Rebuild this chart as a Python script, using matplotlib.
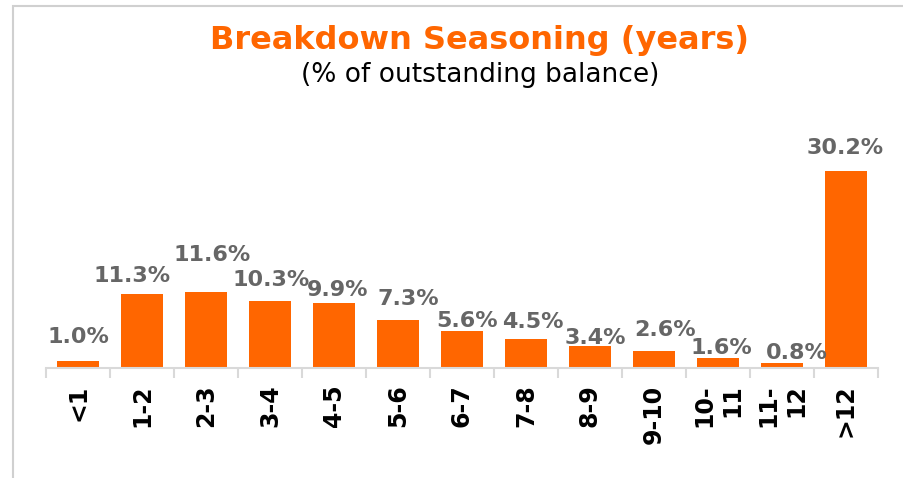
import matplotlib
matplotlib.use("Agg")
import matplotlib.pyplot as plt
from matplotlib.patches import Rectangle
import numpy as np

# Seasoning buckets and share of outstanding balance (%)
categories = ["<1", "1-2", "2-3", "3-4", "4-5", "5-6", "6-7", "7-8", "8-9", "9-10", "10-\n11", "11-\n12", ">12"]
values = [1.0, 11.3, 11.6, 10.3, 9.9, 7.3, 5.6, 4.5, 3.4, 2.6, 1.6, 0.8, 30.2]

# hand-placed label nudges (pixels from bar top centre), as in the original chart
label_dx = [0, -10, 6, 1, 4, 10, 5, 7, 5, 11, 3, 15, -1]
label_dy = [24, 18, 37, 21, 13, 21, 10, 17, 8, 21, 10, 10, 23]

orange = "#FF6600"
label_grey = "#666666"
line_grey = "#D9D9D9"

fig = plt.figure(figsize=(9.04, 4.78), dpi=100)
fig.patch.set_facecolor("white")

# light frame around the chart area (runs off the right/bottom edge)
fig.patches.append(Rectangle((13 / 904, -0.05), 1.0, 1 - 6 / 478 + 0.05,
                             transform=fig.transFigure, fill=False,
                             edgecolor="#D0D0D0", linewidth=1.5))

ax = fig.add_axes([46 / 904, 1 - 368 / 478, 832 / 904, 218 / 478])
x = np.arange(len(categories))
bars = ax.bar(x, values, width=0.67, color=orange)

ax.set_xlim(-0.5, len(categories) - 0.5)
ax.set_ylim(0, 218 / 6.52)

for spine in ["top", "right", "left"]:
    ax.spines[spine].set_visible(False)
ax.spines["bottom"].set_color(line_grey)
ax.spines["bottom"].set_linewidth(1.5)
ax.set_yticks([])

ax.set_xticks(x)
ax.set_xticklabels(categories, rotation=90, fontsize=17, fontweight="bold",
                   color="black", multialignment="right")
ax.set_xticks(np.arange(-0.5, len(categories)), minor=True)
ax.tick_params(axis="x", which="major", length=0, pad=12)
ax.tick_params(axis="x", which="minor", length=7, width=1.5, color=line_grey)

for rect, v, dx, dy in zip(bars, values, label_dx, label_dy):
    ax.annotate(f"{v:.1f}%", (rect.get_x() + rect.get_width() / 2, rect.get_height()),
                xytext=(dx, dy), textcoords="offset pixels", ha="center", va="center",
                fontsize=16, fontweight="bold", color=label_grey)

fig.text(480 / 904, 1 - 40 / 478, "Breakdown Seasoning (years)", ha="center", va="center",
         fontsize=23, fontweight="bold", color=orange)
fig.text(480 / 904, 1 - 75 / 478, "(% of outstanding balance)", ha="center", va="center",
         fontsize=19, color="black")

fig.savefig("out.png", dpi=100, facecolor="white")
